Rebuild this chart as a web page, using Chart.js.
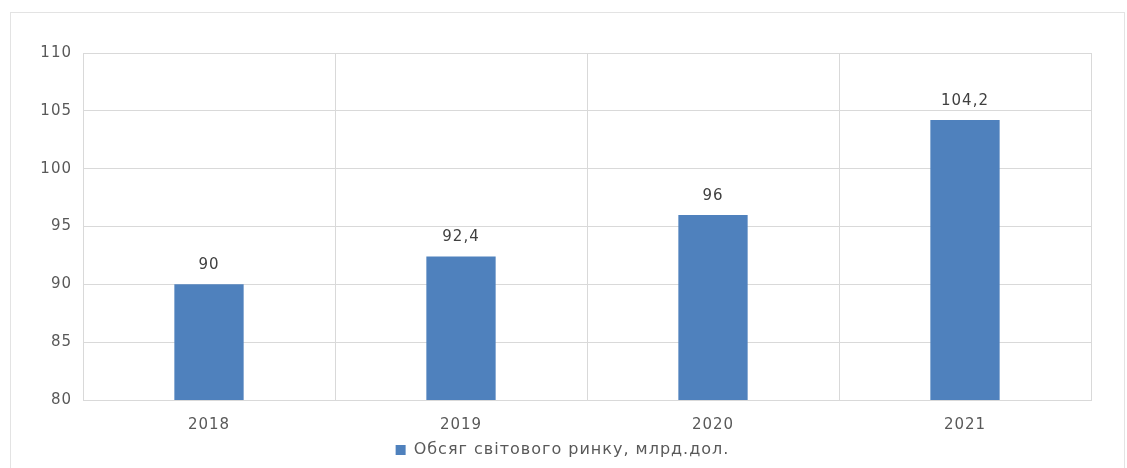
<!DOCTYPE html>
<html><head><meta charset="utf-8">
<script src="https://cdn.jsdelivr.net/npm/chart.js@4/dist/chart.umd.min.js"></script>
<style>html,body{margin:0;padding:0;background:#fff}#w{width:1127px;height:468px;position:relative}</style>
</head><body><div id="w"><canvas id="c" width="1127" height="468"></canvas></div>
<script>
const categories = ['2018', '2019', '2020', '2021'];
const seriesName = 'Обсяг світового ринку, млрд.дол.';
const seriesValues = [90, 92.4, 96, 104.2];
const yTicks = [80, 85, 90, 95, 100, 105, 110];

const textColor = '#595959';
const gridColor = '#d9d9d9';
const barColor = '#4f81bd';
const fontFamily = '"DejaVu Sans", Verdana, sans-serif';

function spacing(chart) { chart.ctx.letterSpacing = '1px'; }

const frame = {
  id: 'frame',
  beforeUpdate: spacing,
  beforeLayout: spacing,
  beforeDraw(chart) {
    spacing(chart);
    const ctx = chart.ctx;
    ctx.save();
    ctx.fillStyle = '#fff';
    ctx.fillRect(0, 0, chart.width, chart.height);
    ctx.strokeStyle = '#e3e3e3';
    ctx.lineWidth = 1;
    ctx.strokeRect(10.5, 12.5, 1114, 500);
    ctx.restore();
  }
};

const valueLabels = {
  id: 'valueLabels',
  afterDraw(chart) {
    const ctx = chart.ctx;
    ctx.save();
    ctx.font = '15px ' + fontFamily;
    ctx.fillStyle = '#404040';
    ctx.textAlign = 'center';
    ctx.textBaseline = 'middle';
    chart.getDatasetMeta(0).data.forEach((bar, i) => {
      const v = chart.data.datasets[0].data[i];
      ctx.fillText(String(v).replace('.', ','), bar.x, bar.y - 19);
    });
    ctx.restore();
  }
};

new Chart(document.getElementById('c'), {
  type: 'bar',
  data: {
    labels: categories,
    datasets: [{
      label: seriesName,
      data: seriesValues,
      backgroundColor: barColor,
      borderWidth: 0,
      barPercentage: 0.55,
      categoryPercentage: 0.5
    }]
  },
  options: {
    responsive: false,
    animation: false,
    devicePixelRatio: 1,
    layout: { padding: { left: 34, right: 36, top: 53, bottom: 0 } },
    plugins: {
      legend: {
        position: 'bottom',
        labels: {
          color: textColor,
          font: { family: fontFamily, size: 16 },
          boxWidth: 10, boxHeight: 10, padding: 4
        }
      },
      tooltip: { enabled: false }
    },
    scales: {
      x: {
        grid: { color: gridColor, drawTicks: false, offset: true },
        border: { color: gridColor },
        ticks: { color: textColor, font: { family: fontFamily, size: 15 }, padding: 16 },
        afterFit(s) { s.height = 38; }
      },
      y: {
        min: yTicks[0], max: yTicks[yTicks.length - 1],
        z: 1,
        afterBuildTicks(s) { s.ticks = yTicks.map(v => ({ value: v })); },
        grid: { color: gridColor, drawTicks: false },
        border: { color: gridColor },
        ticks: { color: textColor, font: { family: fontFamily, size: 15 }, padding: 11 },
        afterFit(s) { s.width = 49; }
      }
    }
  },
  plugins: [frame, valueLabels]
});
</script></body></html>
